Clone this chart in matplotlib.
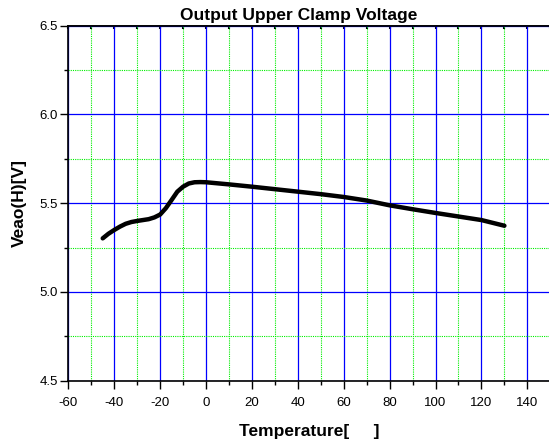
import matplotlib
matplotlib.use("Agg")
import matplotlib.pyplot as plt
from matplotlib.ticker import MultipleLocator

plt.rcParams['font.family'] = ['Liberation Sans', 'DejaVu Sans']
plt.rcParams['axes.unicode_minus'] = False

temperature = [-45, -42.5, -40, -37.5, -35, -32.5, -30, -25, -22.5, -20, -17.5, -15,
               -12.5, -10, -7.5, -5, -2.5, 0, 10, 20, 30, 40, 50, 60, 70, 80, 90,
               100, 110, 120, 130]
veao_h = [5.302, 5.328, 5.349, 5.368, 5.384, 5.394, 5.40, 5.41, 5.42, 5.436, 5.472,
          5.518, 5.565, 5.593, 5.611, 5.618, 5.619, 5.618, 5.606, 5.593, 5.579,
          5.565, 5.551, 5.535, 5.515, 5.488, 5.466, 5.445, 5.425, 5.405, 5.373]

x_ticks = list(range(-60, 141, 20))

fig = plt.figure(figsize=(5.49, 4.44), dpi=100)
ax = fig.add_axes([68.3/549, 1 - 380.7/444, (550.3-68.3)/549, (380.7-25.7)/444])

ax.set_xlim(-60, 150)
ax.set_ylim(4.5, 6.5)
ax.set_xticks(x_ticks)
ax.xaxis.set_minor_locator(MultipleLocator(10))
ax.yaxis.set_major_locator(MultipleLocator(0.5))
ax.yaxis.set_minor_locator(MultipleLocator(0.25))

ax.grid(which='minor', color='#00ee00', linestyle=(0, (1, 1)), linewidth=0.8)
ax.grid(which='major', color='#0000ff', linestyle='-', linewidth=0.9)
ax.set_axisbelow(True)

ax.plot(temperature, veao_h, color='black', linewidth=3.2, solid_capstyle='round',
        solid_joinstyle='round', zorder=5)

ax.tick_params(axis='y', which='major', direction='out', length=5.5, width=1,
               labelsize=9.5, pad=2)
ax.tick_params(axis='y', which='minor', direction='out', length=3, width=1)
ax.tick_params(axis='x', which='major', direction='out', length=5.5, width=1,
               labelsize=9.5, pad=6)
ax.tick_params(axis='x', which='minor', direction='out', length=3, width=1)

# inward ticks on the top spine
sec = ax.secondary_xaxis('top')
sec.set_xticks(x_ticks)
sec.xaxis.set_minor_locator(MultipleLocator(10))
sec.tick_params(which='both', direction='in', length=2.5, width=1.5, labeltop=False)
sec.spines['top'].set_linewidth(1.2)

for s in ax.spines.values():
    s.set_linewidth(1.2)
ax.spines['right'].set_visible(False)

ax.set_title('Output Upper Clamp Voltage', fontsize=12.5, fontweight='bold', pad=4,
             x=0.479)
ax.set_xlabel('Temperature[     ]', fontsize=12.5, fontweight='bold', labelpad=11)
ax.set_ylabel('Veao(H)[V]', fontsize=12.5, fontweight='bold', labelpad=9)

fig.savefig('out.png', dpi=100)
